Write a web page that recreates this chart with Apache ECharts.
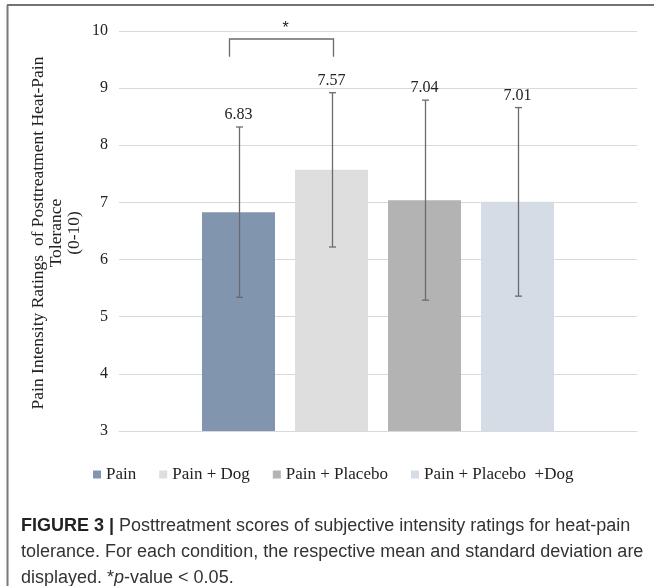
<!DOCTYPE html>
<html>
<head>
<meta charset="utf-8">
<script src="https://cdn.jsdelivr.net/npm/echarts@6/dist/echarts.min.js"></script>
<style>
html,body{margin:0;padding:0;background:#fff;}
#c{width:654px;height:586px;}
</style>
</head>
<body>
<div id="c"></div>
<script>
// ---- data ----
const categories = ['Posttreatment'];
const seriesNames = ['Pain', 'Pain + Dog', 'Pain + Placebo', 'Pain + Placebo  +Dog'];
const means = [6.83, 7.57, 7.04, 7.01];
const sds = [1.49, 1.35, 1.75, 1.65];
const yMin = 3, yMax = 10, yInterval = 1;
const sigPair = [0, 1];
const sigLabel = '*';
const sigBracket = [9.86, 9.55, 10.05]; // top, bottom of bracket, star level
const yAxisName = 'Pain Intensity Ratings  of Posttreatment Heat-Pain\nTolerance\n(0-10)';
const captionLines = [
  '{b|FIGURE 3 |} Posttreatment scores of subjective intensity ratings for heat-pain',
  'tolerance. For each condition, the respective mean and standard deviation are',
  'displayed. *{i|p}-value < 0.05.'
];

// ---- styles ----
const colors = ['#8295ae', '#dedede', '#b3b3b3', '#d5dce5'];
const BAR_W = 73, GAP = 20, STEP = BAR_W + GAP;
const serif = '"Liberation Serif", "Times New Roman", serif';
const sans = '"Liberation Sans", Arial, sans-serif';

const chart = echarts.init(document.getElementById('c'));

const barSeries = seriesNames.map((n, i) => ({
  name: n,
  type: 'bar',
  data: [means[i]],
  barWidth: BAR_W,
  barGap: (GAP / BAR_W * 100).toFixed(1) + '%',
  itemStyle: { color: colors[i] },
  z: 2
}));

const errData = means.map((m, i) => [0, m - sds[i], m + sds[i], i, m]);

const errSeries = {
  type: 'custom',
  name: 'err',
  clip: false,
  z: 5,
  encode: { x: 0, y: [1, 2] },
  data: errData,
  renderItem: function (params, api) {
    const idx = api.value(3);
    const lo = api.coord([0, api.value(1)]);
    const hi = api.coord([0, api.value(2)]);
    const x = lo[0] + (idx - 1.5) * STEP + 1;
    const cap = 3.5;
    const st = { stroke: '#6b6b6b', lineWidth: 1.3 };
    return {
      type: 'group',
      children: [
        { type: 'line', shape: { x1: x, y1: lo[1], x2: x, y2: hi[1] }, style: st },
        { type: 'line', shape: { x1: x - cap, y1: lo[1], x2: x + cap, y2: lo[1] }, style: st },
        { type: 'line', shape: { x1: x - cap, y1: hi[1], x2: x + cap, y2: hi[1] }, style: st },
        { type: 'text', x: x - 1, y: hi[1] - 12,
          style: { text: api.value(4).toFixed(2), fill: '#222', font: '16px ' + serif,
                   textAlign: 'center', textVerticalAlign: 'middle' } }
      ]
    };
  }
};

const sigSeries = {
  type: 'custom',
  name: 'sig',
  clip: false,
  z: 5,
  encode: { x: 0, y: [1, 2] },
  data: [[0, sigBracket[0], sigBracket[1], sigPair[0], sigPair[1], sigBracket[2]]],
  renderItem: function (params, api) {
    const top = api.coord([0, api.value(1)]);
    const bot = api.coord([0, api.value(2)]);
    const star = api.coord([0, api.value(5)]);
    const xl = top[0] + (api.value(3) - 1.5) * STEP - 9;
    const xr = top[0] + (api.value(4) - 1.5) * STEP + 2;
    return {
      type: 'group',
      children: [
        { type: 'polyline', shape: { points: [[xl, bot[1]], [xl, top[1]], [xr, top[1]], [xr, bot[1]]] },
          style: { stroke: '#6b6b6b', lineWidth: 1.3, fill: null } },
        { type: 'text', x: (xl + xr) / 2 + 4, y: star[1],
          style: { text: sigLabel, fill: '#222', font: '16px ' + sans,
                   textAlign: 'center', textVerticalAlign: 'middle' } }
      ]
    };
  }
};

const option = {
  animation: false,
  backgroundColor: '#fff',
  grid: { left: 119, right: 17, top: 31, bottom: 155 },
  xAxis: {
    type: 'category',
    data: categories,
    axisLabel: { show: false },
    axisTick: { show: false },
    axisLine: { lineStyle: { color: '#d9d9d9', width: 1 } }
  },
  yAxis: {
    type: 'value',
    min: yMin, max: yMax, interval: yInterval,
    axisLine: { show: false },
    axisTick: { show: false },
    splitLine: { lineStyle: { color: '#d9d9d9', width: 1 } },
    axisLabel: { color: '#222', fontFamily: serif, fontSize: 16, margin: 11 }
  },
  legend: {
    data: seriesNames,
    icon: 'rect',
    itemWidth: 8, itemHeight: 8, itemGap: 23,
    left: 88, top: 461,
    textStyle: { color: '#222', fontFamily: serif, fontSize: 17 }
  },
  series: [...barSeries, errSeries, sigSeries],
  graphic: [
    { type: 'line', shape: { x1: 7, y1: 5, x2: 654, y2: 5 }, style: { stroke: '#444', lineWidth: 1.5 } },
    { type: 'line', shape: { x1: 7.5, y1: 5, x2: 7.5, y2: 586 }, style: { stroke: '#7a7a7a', lineWidth: 2 } },
    { type: 'text', x: 56, y: 233, rotation: Math.PI / 2,
      style: { text: yAxisName, fill: '#222', font: '17.5px ' + serif, lineHeight: 18,
               textAlign: 'center', textVerticalAlign: 'middle' } },
    ...captionLines.map((t, i) => ({
      type: 'text', left: 21, top: 517 + i * 26,
      style: {
        text: t, fill: '#333', font: '18px ' + sans,
        rich: {
          b: { fontWeight: 'bold', fill: '#222', fontSize: 18, fontFamily: sans },
          i: { fontStyle: 'italic', fill: '#333', fontSize: 18, fontFamily: sans }
        }
      }
    }))
  ]
};
chart.setOption(option);
</script>
</body>
</html>
